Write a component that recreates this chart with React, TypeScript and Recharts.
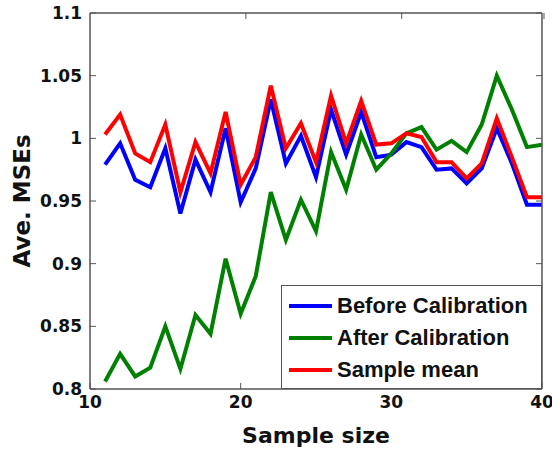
import { LineChart, Line, XAxis, YAxis, Legend } from "recharts";

const sampleSize = [
  11, 12, 13, 14, 15, 16, 17, 18, 19, 20, 21, 22, 23, 24, 25, 26, 27, 28, 29,
  30, 31, 32, 33, 34, 35, 36, 37, 38, 39, 40,
];
const beforeCal = [
  0.979, 0.996, 0.967, 0.961, 0.992, 0.94, 0.983, 0.957, 1.008, 0.949, 0.976,
  1.031, 0.98, 1.002, 0.969, 1.023, 0.987, 1.021, 0.985, 0.987, 0.997, 0.993,
  0.975, 0.976, 0.964, 0.976, 1.008, 0.98, 0.947, 0.947,
];
const afterCal = [
  0.806, 0.828, 0.81, 0.817, 0.85, 0.816, 0.859, 0.844, 0.904, 0.86, 0.89,
  0.957, 0.919, 0.951, 0.926, 0.989, 0.959, 1.003, 0.975, 0.988, 1.004, 1.009,
  0.991, 0.998, 0.989, 1.011, 1.05, 1.023, 0.993, 0.995,
];
const sampleMean = [
  1.003, 1.019, 0.988, 0.981, 1.011, 0.957, 0.997, 0.972, 1.021, 0.963, 0.985,
  1.042, 0.992, 1.012, 0.981, 1.034, 0.996, 1.03, 0.995, 0.996, 1.004, 1.001,
  0.981, 0.981, 0.968, 0.98, 1.016, 0.985, 0.953, 0.953,
];
const seriesNames = ["Before Calibration", "After Calibration", "Sample mean"];
const xTicks = [10, 20, 30, 40];
const yTicks = [0.8, 0.85, 0.9, 0.95, 1, 1.05, 1.1];

const data = sampleSize.map((n, i) => ({
  n,
  before: beforeCal[i],
  after: afterCal[i],
  mean: sampleMean[i],
}));

const FRAME = "#555";
const TICK_FONT = "'DejaVu Sans', sans-serif";
const TL = 6;

const LeftTick = ({ x, y, payload }: any) => (
  <g>
    <text
      x={x}
      y={y}
      textAnchor="end"
      dominantBaseline="central"
      fontFamily={TICK_FONT}
      fontWeight="bold"
      fontSize={17}
      fill="#111"
    >
      {String(payload.value)}
    </text>
    <line x1={x + 8} x2={x + 8 + TL} y1={y} y2={y} stroke={FRAME} />
  </g>
);

const BottomTick = ({ x, y, payload }: any) => (
  <g>
    <text
      x={x}
      y={y}
      textAnchor="middle"
      dominantBaseline="hanging"
      fontFamily={TICK_FONT}
      fontWeight="bold"
      fontSize={17}
      fill="#111"
    >
      {String(payload.value)}
    </text>
    <line x1={x} x2={x} y1={y - 6} y2={y - 6 - TL} stroke={FRAME} />
  </g>
);

const RightTick = ({ x, y }: any) => (
  <line x1={x - TL} x2={x} y1={y} y2={y} stroke={FRAME} />
);

const TopTick = ({ x, y }: any) => (
  <line x1={x} x2={x} y1={y} y2={y + TL} stroke={FRAME} />
);

const LegendBox = ({ payload }: any) => {
  const items = [...(payload || [])].sort(
    (a: any, b: any) => seriesNames.indexOf(a.value) - seriesNames.indexOf(b.value)
  );
  return (
    <div
      style={{
        width: "100%",
        height: "100%",
        boxSizing: "border-box",
        border: `1px solid ${FRAME}`,
        background: "#fff",
        paddingTop: 4,
        paddingLeft: 7,
      }}
    >
      {items.map((p: any) => (
        <div
          key={p.value}
          style={{ display: "flex", alignItems: "center", height: 32 }}
        >
          <div
            style={{ width: 43, height: 4, background: p.color, marginRight: 5 }}
          />
          <span
            style={{
              fontFamily: "'Liberation Sans', Arial, sans-serif",
              fontWeight: "bold",
              fontSize: 22,
              color: "#111",
              lineHeight: "22px",
            }}
          >
            {p.value}
          </span>
        </div>
      ))}
    </div>
  );
};

export default function App() {
  return (
    <div style={{ position: "absolute", left: 0, top: 0, background: "#fff" }}>
      <LineChart
        width={552}
        height={455}
        data={data}
        margin={{ top: 0, right: 0, bottom: 0, left: 0 }}
      >
        <XAxis
          dataKey="n"
          type="number"
          domain={[10, 40]}
          ticks={xTicks}
          height={66}
          tickSize={0}
          tickMargin={6}
          tick={<BottomTick />}
          axisLine={{ stroke: FRAME, strokeWidth: 1.5 }}
          allowDataOverflow
          label={{
            value: "Sample size",
            position: "insideBottom",
            offset: 12,
            style: {
              fontFamily: TICK_FONT,
              fontWeight: "bold",
              fontSize: 22,
              fill: "#111",
            },
          }}
        />
        <XAxis
          xAxisId="top"
          orientation="top"
          type="number"
          domain={[10, 40]}
          ticks={xTicks}
          height={13}
          tickSize={0}
          tickMargin={0}
          tick={<TopTick />}
          axisLine={{ stroke: FRAME, strokeWidth: 1.5 }}
          allowDataOverflow
        />
        <YAxis
          type="number"
          domain={[0.8, 1.1]}
          ticks={yTicks}
          width={90}
          tickSize={0}
          tickMargin={8}
          tick={<LeftTick />}
          axisLine={{ stroke: FRAME, strokeWidth: 1.5 }}
          allowDataOverflow
          label={{
            value: "Ave. MSEs",
            angle: -90,
            position: "insideLeft",
            offset: 22,
            style: {
              fontFamily: TICK_FONT,
              fontWeight: "bold",
              fontSize: 23,
              fill: "#111",
              textAnchor: "middle",
            },
          }}
        />
        <YAxis
          yAxisId="right"
          orientation="right"
          type="number"
          domain={[0.8, 1.1]}
          ticks={yTicks}
          width={10}
          tickSize={0}
          tickMargin={0}
          tick={<RightTick />}
          axisLine={{ stroke: FRAME, strokeWidth: 1.5 }}
          allowDataOverflow
        />
        <Legend
          layout="vertical"
          align="center"
          verticalAlign="middle"
          content={<LegendBox />}
          wrapperStyle={{ left: 281, top: 285, width: 261, height: 104 }}
        />
        <Line
          dataKey="before"
          name="Before Calibration"
          stroke="#0000ff"
          strokeWidth={4}
          dot={false}
          isAnimationActive={false}
        />
        <Line
          dataKey="after"
          name="After Calibration"
          stroke="#008000"
          strokeWidth={4}
          dot={false}
          isAnimationActive={false}
        />
        <Line
          dataKey="mean"
          name="Sample mean"
          stroke="#ff0000"
          strokeWidth={4}
          dot={false}
          isAnimationActive={false}
        />
      </LineChart>
    </div>
  );
}
